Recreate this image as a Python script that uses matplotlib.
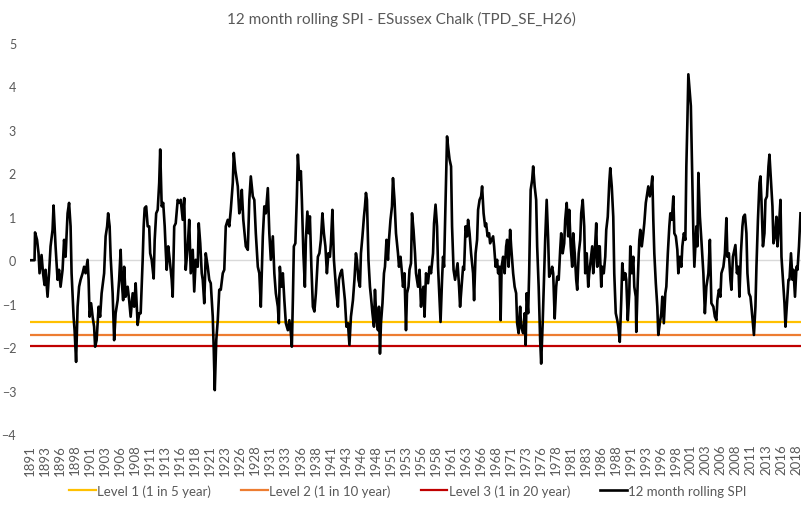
import matplotlib
matplotlib.use("Agg")
import matplotlib.pyplot as plt

plt.rcParams['font.family'] = ['Lato', 'DejaVu Sans']

title = "12 month rolling SPI - ESussex Chalk (TPD_SE_H26)"

# month index since Jan 1891 and 12-month rolling SPI value
months = [
    0, 9, 10, 14, 17, 19, 23, 26, 29, 31, 35, 38, 41, 45, 47, 49, 51, 55, 58, 61,
    65, 68, 71, 75, 78, 81, 83, 87, 89, 92, 95, 98, 101, 105, 108, 111, 115, 117, 119, 122,
    125, 128, 130, 133, 137, 140, 143, 148, 151, 154, 156, 159, 161, 165, 168, 171, 175, 178, 181, 183,
    186, 188, 191, 195, 198, 201, 205, 208, 211, 215, 218, 221, 225, 227, 229, 232, 235, 238, 240, 243,
    247, 249, 252, 255, 258, 260, 263, 266, 269, 271, 273, 276, 279, 283, 285, 288, 291, 295, 298, 301,
    305, 308, 311, 315, 318, 321, 325, 328, 331, 335, 337, 340, 343, 345, 348, 351, 355, 358, 361, 365,
    367, 369, 372, 375, 378, 381, 385, 388, 391, 395, 398, 401, 405, 407, 410, 415, 418, 421, 423, 426,
    429, 431, 435, 438, 441, 445, 448, 451, 455, 458, 461, 465, 468, 471, 475, 478, 481, 485, 488, 491,
    495, 497, 499, 502, 505, 508, 511, 515, 518, 521, 523, 525, 527, 530, 533, 535, 538, 541, 543, 546,
    549, 551, 554, 557, 559, 562, 565, 568, 571, 575, 578, 581, 584, 587, 590, 593, 596, 599, 601, 604,
    607, 609, 612, 615, 617, 620, 623, 625, 629, 632, 635, 638, 641, 645, 648, 651, 653, 656, 659, 661,
    664, 667, 669, 671, 673, 676, 679, 681, 684, 687, 689, 692, 695, 697, 699, 701, 704, 707, 709, 712,
    715, 717, 720, 723, 725, 728, 731, 735, 737, 740, 743, 745, 748, 751, 753, 756, 758, 761, 763, 766,
    769, 771, 775, 778, 781, 783, 786, 788, 791, 795, 798, 801, 805, 807, 810, 813, 815, 818, 820, 823,
    825, 827, 830, 833, 835, 838, 841, 843, 846, 849, 851, 854, 857, 859, 862, 865, 867, 870, 873, 875,
    878, 881, 885, 887, 890, 893, 895, 898, 901, 903, 906, 909, 911, 914, 917, 919, 922, 925, 927, 930,
    933, 935, 938, 940, 942, 945, 948, 951, 953, 956, 959, 961, 965, 968, 971, 973, 976, 979, 981, 985,
    988, 990, 992, 995, 997, 1000, 1003, 1005, 1008, 1011, 1013, 1016, 1019, 1021, 1024, 1027, 1029, 1032, 1035, 1037,
    1040, 1043, 1045, 1048, 1051, 1053, 1056, 1059, 1061, 1064, 1067, 1069, 1072, 1075, 1077, 1080, 1083, 1085, 1088, 1091,
    1093, 1096, 1099, 1101, 1104, 1107, 1109, 1112, 1115, 1117, 1120, 1123, 1125, 1128, 1131, 1133, 1136, 1138, 1141, 1143,
    1146, 1149, 1151, 1154, 1157, 1159, 1162, 1165, 1167, 1170, 1173, 1175, 1178, 1181, 1183, 1186, 1189, 1191, 1194, 1197,
    1199, 1202, 1205, 1207, 1210, 1211, 1214, 1217, 1219, 1222, 1225, 1227, 1230, 1233, 1235, 1238, 1241, 1243, 1245, 1247,
    1250, 1253, 1255, 1258, 1261, 1263, 1266, 1269, 1271, 1274, 1277, 1279, 1282, 1285, 1287, 1290, 1293, 1295, 1298, 1301,
    1303, 1306, 1309, 1311, 1313, 1315, 1318, 1320, 1322, 1325, 1327, 1331, 1333, 1335, 1338, 1341, 1345, 1348, 1351, 1355,
    1358, 1361, 1365, 1368, 1371, 1373, 1376, 1379, 1381, 1385, 1388, 1391, 1393, 1396, 1399, 1401, 1404, 1407, 1409, 1412,
    1415, 1417, 1420, 1423, 1425, 1428, 1431, 1433, 1436, 1439, 1441, 1444, 1446, 1449, 1451, 1454, 1457, 1459, 1461, 1464,
    1467, 1469, 1472, 1475, 1477, 1480, 1483, 1485, 1488, 1491, 1493, 1496, 1499, 1501, 1504, 1507, 1509, 1512, 1515, 1517,
    1520, 1523, 1525, 1528, 1531, 1533, 1536, 1539,
]
spi = [
    0.0, 0.0, 0.64, 0.47, 0.16, -0.30, 0.12, -0.30, -0.57, -0.22, -0.84, -0.30, 0.32, 0.70, 1.26, 0.78, 0.32, -0.45, -0.22, -0.61,
    -0.22, 0.47, 0.08, 1.08, 1.32, 0.78, -0.30, -1.30, -1.61, -2.34, -1.07, -0.61, -0.45, -0.30, -0.15, -0.30, 0.01, -0.45, -1.30, -0.99,
    -1.30, -1.53, -1.99, -1.84, -1.07, -1.30, -0.76, -0.30, 0.55, 0.78, 1.08, 0.78, 0.08, -0.76, -1.84, -1.22, -0.92, -0.45, 0.24, -0.45,
    -0.92, -0.15, -0.84, -0.61, -0.92, -1.30, -0.76, -1.07, -0.53, -1.49, -1.22, -1.22, 0.01, 0.78, 1.20, 1.24, 0.78, 0.78, 0.16, 0.01,
    -0.42, 0.47, 1.08, 1.16, 1.78, 2.55, 1.24, 1.32, 0.78, 0.24, -0.22, 0.32, 0.01, -0.45, -0.84, 0.78, 0.85, 1.39, 1.32, 1.39,
    0.93, 1.43, -0.22, 0.32, 0.93, -0.30, 0.24, -0.72, 0.01, -0.15, 0.85, 0.39, -0.30, -0.45, -0.99, 0.16, -0.15, -0.45, -0.53, -1.30,
    -2.07, -2.99, -1.84, -1.38, -0.68, -0.68, -0.30, -0.22, 0.78, 0.93, 0.78, 1.16, 1.78, 2.47, 2.08, 1.70, 1.08, 1.24, 1.62, 0.93,
    0.55, 0.32, 0.24, 1.39, 1.93, 1.47, 1.39, 0.62, -0.15, -0.30, -1.07, 0.55, 1.24, 1.08, 1.66, 0.62, 0.01, 0.55, -0.30, -0.76,
    -1.07, -1.45, -0.15, -0.61, -0.30, -0.92, -1.45, -1.61, -1.38, -1.68, -1.99, -0.92, 0.32, 0.39, 1.47, 2.43, 1.85, 2.05, 1.39, 0.16,
    -0.61, 0.47, 1.12, 0.62, 1.01, -0.15, -1.07, -1.18, -0.76, 0.08, 0.16, 0.47, 1.08, 0.62, 0.32, -0.30, 0.16, 0.08, 0.39, 1.16,
    0.01, -0.30, -0.76, -1.07, -0.45, -0.30, -0.22, -0.45, -0.92, -1.53, -1.45, -1.95, -1.30, -0.92, -0.45, 0.16, 0.01, -0.45, -0.61, 0.16,
    0.55, 1.00, 1.24, 1.55, 1.39, 0.01, -0.61, -0.84, -1.22, -1.53, -0.68, -1.38, -1.61, -1.07, -2.15, -1.45, -0.99, -0.30, -0.15, 0.47,
    0.01, 0.47, 0.93, 1.24, 1.89, 1.39, 0.62, 0.16, -0.15, 0.08, -0.30, -0.61, -0.30, -1.61, -0.76, -0.61, -0.22, -0.07, 1.08, 0.70,
    0.16, -0.30, -0.61, -0.22, -1.07, -0.76, -0.61, -1.30, -0.30, -0.53, -0.15, -0.30, 0.16, 0.85, 1.28, 0.78, -0.15, -0.92, -1.42, -0.45,
    0.08, -0.15, 1.39, 2.85, 2.62, 2.32, 2.16, 0.78, -0.22, -0.45, -0.30, -0.07, -0.61, -1.07, -0.61, -0.15, -0.22, 0.78, 0.55, 0.93,
    0.62, 0.16, -0.30, -0.92, 0.16, 0.47, 1.16, 1.39, 1.47, 1.70, 1.08, 0.78, 0.85, 0.55, 0.62, 0.39, 0.47, 0.55, 0.32, -0.15,
    0.01, -0.30, -0.15, -1.38, -0.15, 0.08, -0.30, 0.32, 0.47, -0.15, 0.70, 0.32, -0.30, -0.61, -0.76, -1.45, -1.68, -1.07, -1.53, -1.68,
    -1.22, -1.95, -0.76, -1.22, -0.30, 1.62, 1.85, 2.16, 1.70, 1.39, 0.32, -0.61, -1.84, -2.38, -1.45, -0.30, 0.47, 1.39, 0.47, -0.38,
    -0.30, -0.15, -0.30, -1.34, -0.61, -0.38, -0.45, 0.24, 0.62, 0.16, 0.39, 0.93, 1.32, 0.55, 1.16, 0.32, -0.15, 0.62, 0.16, -0.45,
    -0.68, 0.16, 0.47, 1.08, 1.39, 0.78, -0.30, 0.16, -0.61, -0.30, 0.01, 0.32, -0.30, 0.16, 0.85, -0.15, 0.32, 0.32, -0.61, -0.15,
    -0.30, 0.08, 0.70, 1.00, 1.78, 2.12, 1.70, 1.00, -0.30, -1.22, -1.38, -1.53, -1.88, -0.92, -0.07, -0.45, -0.30, -0.45, -1.38, -0.76,
    0.32, -0.30, 0.08, -0.61, -0.84, -1.65, -0.45, 0.47, 0.70, 0.32, 0.62, 0.85, 1.32, 1.55, 1.70, 1.47, 1.70, 1.93, 0.93, 0.16,
    -0.53, -1.07, -1.72, -1.45, -1.22, -0.84, -1.45, -0.76, -0.61, 0.16, 0.78, 1.08, 0.93, 1.47, 0.62, 0.55, 0.24, -0.30, 0.08, -0.15,
    0.32, 0.62, 0.47, 2.16, 3.16, 4.28, 3.85, 3.55, 2.39, 0.62, -0.15, 0.78, 0.32, 2.01, 1.01, 0.47, -0.30, -1.22, -0.61, -0.30,
    0.47, -0.99, -1.07, -1.30, -1.38, -0.92, -0.68, -0.84, -0.30, -0.15, 0.16, 0.97, 0.08, 0.16, -0.45, -0.68, 0.08, 0.24, 0.35, -0.30,
    -0.15, -0.84, 0.16, 0.78, 1.00, 1.05, 0.62, -0.30, -0.76, -0.84, -1.07, -1.45, -1.72, -1.07, -0.15, 0.93, 1.78, 1.93, 1.39, 0.32,
    0.62, 1.39, 1.47, 2.16, 2.43, 1.85, 1.24, 0.39, 0.55, 1.00, 0.32, 0.78, 1.39, 0.08, -0.45, -0.99, -1.53, -0.99, -0.45, -0.45,
    0.16, -0.45, -0.22, -0.84, -0.15, -0.22, 0.32, 1.08,
]

# drought trigger levels
level_names = ["Level 1 (1 in 5 year)", "Level 2 (1 in 10 year)", "Level 3 (1 in 20 year)"]
level_values = [-1.42, -1.72, -1.97]
level_colors = ["#FFC000", "#ED7D31", "#C00000"]

# category-axis labels, every 30 months
tick_months = list(range(0, 1531, 30))
tick_labels = [str(1891 + int(2.5 * k)) for k in range(len(tick_months))]

fig = plt.figure(figsize=(8.03, 5.06), dpi=100)
ax = fig.add_axes([0.0374, 0.1403, 0.9601, 0.7727])

n_end = months[-1]
ax.axhline(0, color="#D9D9D9", lw=1.0, zorder=1)
handles = []
for name, val, col in zip(level_names, level_values, level_colors):
    h, = ax.plot([0, n_end], [val, val], color=col, lw=1.6, label=name, zorder=2)
    handles.append(h)
h, = ax.plot(months, spi, color="black", lw=1.9, label="12 month rolling SPI", zorder=3)
handles.append(h)

ax.set_xlim(0, n_end + 1)
ax.set_ylim(-4, 5)
ax.set_yticks(range(-4, 6))
ax.set_xticks(tick_months)
ax.set_xticklabels(tick_labels, rotation=90)
for s in ax.spines.values():
    s.set_visible(False)
ax.tick_params(axis="both", length=0, colors="#595959")
ax.tick_params(axis="x", pad=7, labelsize=9.5)
ax.tick_params(axis="y", pad=10, labelsize=9)

fig.text(0.5, 0.962, title, ha="center", va="center", fontsize=11, color="#595959")

fig.legend(handles=handles, loc="center", bbox_to_anchor=(0.508, 0.028), ncol=4,
           frameon=False, fontsize=9.5, handlelength=2.0, handletextpad=0.1,
           columnspacing=2.3, labelcolor="#595959")

fig.savefig("out.png", dpi=100)
